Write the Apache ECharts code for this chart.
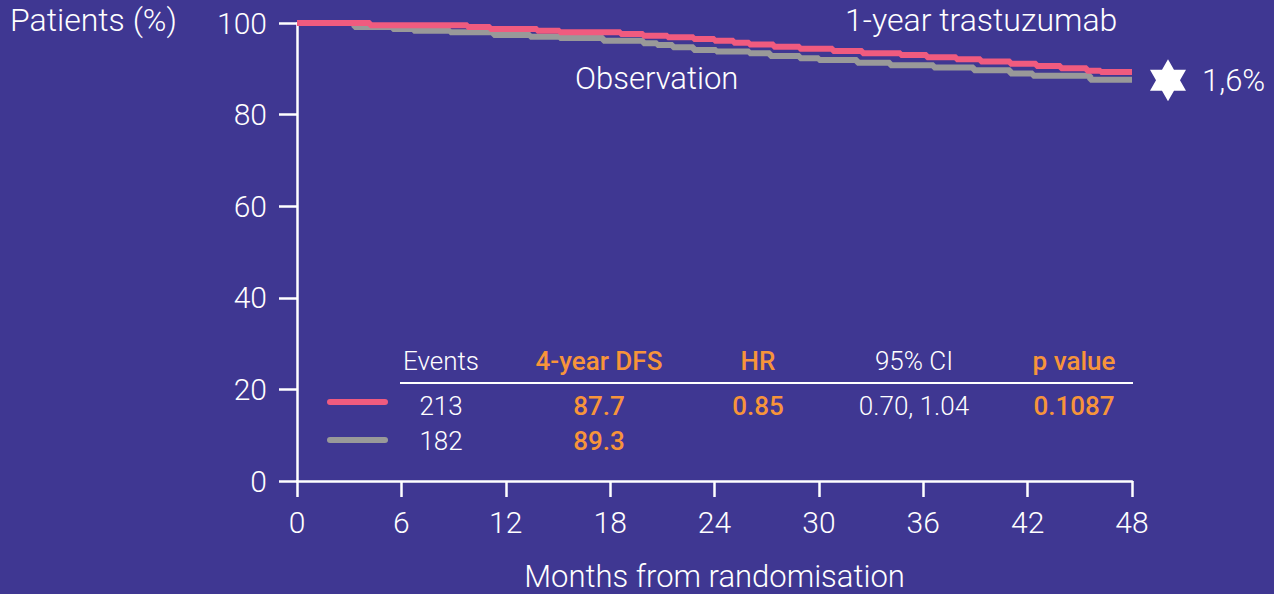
<!DOCTYPE html>
<html><head><meta charset="utf-8">
<script src="https://cdn.jsdelivr.net/npm/echarts@6/dist/echarts.min.js"></script>
<style>html,body{margin:0;padding:0;background:#3f3792;}#c{width:1274px;height:594px;}</style>
</head><body><div id="c"></div>
<script>
const xTicks = [0, 6, 12, 18, 24, 30, 36, 42, 48];
const yTicks = [0, 20, 40, 60, 80, 100];
const trastMonths = [0, 4.2, 9.8, 11.1, 13.8, 15.1, 18.6, 19.9, 21.3, 22.8, 24.0, 25.1, 26.0, 27.4, 28.9, 30.8, 32.5, 34.7, 36.2, 37.9, 39.3, 41.0, 42.5, 43.9, 45.4, 46.2, 48];
const trastValues = [100, 99.5, 99.1, 98.7, 98.3, 98.0, 97.6, 97.2, 96.9, 96.5, 96.1, 95.7, 95.3, 94.8, 94.4, 93.9, 93.4, 93.0, 92.5, 92.1, 91.6, 91.1, 90.6, 90.1, 89.6, 89.3, 89.3];
const obsMonths = [0, 3.3, 5.5, 6.7, 8.8, 11.3, 13.4, 15.1, 17.6, 19.9, 20.7, 21.6, 22.8, 24.1, 26.0, 27.2, 28.9, 30.0, 32.2, 34.1, 36.6, 38.9, 41.0, 42.3, 45.6, 48];
const obsValues = [100, 99.1, 98.7, 98.3, 98.0, 97.4, 97.0, 96.7, 96.1, 95.6, 95.2, 94.7, 94.1, 93.8, 93.4, 92.8, 92.3, 91.9, 91.3, 90.8, 90.3, 89.7, 89.0, 88.5, 87.6, 87.6];
const seriesNames = ['1-year trastuzumab', 'Observation'];
const tableHeaders = ['Events', '4-year DFS', 'HR', '95% CI', 'p value'];
const tableRow1 = ['213', '87.7', '0.85', '0.70, 1.04', '0.1087'];
const tableRow2 = ['182', '89.3', '', '', ''];
const starDiff = '1,6%';

const BG = '#3f3792', RED = '#f05b7f', GRAY = '#999999', ORANGE = '#f7943a', WHITE = '#ffffff';
const FONT = 'Roboto';
const colX = [441, 599, 758, 914, 1074];
const colHl = [false, true, true, false, true];

const chart = echarts.init(document.getElementById('c'), null, {renderer: 'svg'});
const pairs = (xs, ys) => xs.map((x, i) => [x, ys[i]]);

const graphics = [
  {type: 'text', left: 10, top: 4, style: {text: 'Patients (%)', fill: WHITE, font: '300 32px ' + FONT}},
  {type: 'text', left: 845, top: 4, style: {text: seriesNames[0], fill: WHITE, font: '300 32px ' + FONT}},
  {type: 'text', left: 575, top: 63, style: {text: seriesNames[1], fill: WHITE, font: '300 31px ' + FONT}},
  {type: 'line', shape: {x1: 400, y1: 383, x2: 1133, y2: 383}, style: {stroke: WHITE, lineWidth: 2}},
  {type: 'line', shape: {x1: 330, y1: 402, x2: 385, y2: 402}, style: {stroke: RED, lineWidth: 6, lineCap: 'round'}},
  {type: 'line', shape: {x1: 330, y1: 440, x2: 385, y2: 440}, style: {stroke: GRAY, lineWidth: 6, lineCap: 'round'}}
];
const rowsY = [361, 406, 441];
[tableHeaders, tableRow1, tableRow2].forEach((row, r) => {
  row.forEach((t, c) => {
    if (!t) return;
    const isHl = (r === 0) ? colHl[c] : (c !== 0 && c !== 3);
    graphics.push({type: 'text', x: colX[c], y: rowsY[r],
      style: {text: t, fill: isHl ? ORANGE : WHITE, font: (isHl ? '500 ' : '300 ') + '26px ' + FONT,
        textAlign: 'center', textVerticalAlign: 'middle'}});
  });
});

const starPath = 'path://M0,-21 L6.06,-10.5 L18.19,-10.5 L12.12,0 L18.19,10.5 L6.06,10.5 L0,21 L-6.06,10.5 L-18.19,10.5 L-12.12,0 L-18.19,-10.5 L-6.06,-10.5 Z';

chart.setOption({
  backgroundColor: BG,
  animation: false,
  grid: {left: 297, right: 142, top: 23, bottom: 113, containLabel: false, outerBoundsMode: 'none'},
  xAxis: {
    type: 'value', min: 0, max: 48, interval: 6,
    name: 'Months from randomisation', nameLocation: 'middle', nameGap: 80,
    nameTextStyle: {color: WHITE, fontSize: 31, lineHeight: 30, fontFamily: FONT, fontWeight: 300},
    axisLine: {lineStyle: {color: WHITE, width: 2.5}},
    axisTick: {show: true, length: 16, lineStyle: {color: WHITE, width: 2.5}},
    axisLabel: {color: WHITE, fontSize: 30, fontFamily: FONT, fontWeight: 300, margin: 26,
      formatter: v => xTicks.includes(v) ? String(v) : ''},
    splitLine: {show: false}
  },
  yAxis: {
    type: 'value', min: 0, max: 100, interval: 20,
    axisLine: {show: true, lineStyle: {color: WHITE, width: 2.5}},
    axisTick: {show: true, length: 18, lineStyle: {color: WHITE, width: 2.5}},
    axisLabel: {color: WHITE, fontSize: 30, fontFamily: FONT, fontWeight: 300, margin: 30,
      formatter: v => yTicks.includes(v) ? String(v) : ''},
    splitLine: {show: false}
  },
  series: [
    {name: seriesNames[1], type: 'line', step: 'end', showSymbol: false, z: 2,
      lineStyle: {color: GRAY, width: 6}, data: pairs(obsMonths, obsValues)},
    {name: seriesNames[0], type: 'line', step: 'end', showSymbol: false, z: 3,
      lineStyle: {color: RED, width: 6}, data: pairs(trastMonths, trastValues),
      markPoint: {
        symbol: starPath, symbolSize: [36, 42], symbolOffset: [36, 0],
        itemStyle: {color: WHITE},
        label: {show: true, position: 'right', distance: 16, formatter: starDiff,
          color: WHITE, fontSize: 31, fontFamily: FONT, fontWeight: 300},
        data: [{coord: [48, 87.5]}]
      }}
  ],
  graphic: graphics
});
</script></body></html>
